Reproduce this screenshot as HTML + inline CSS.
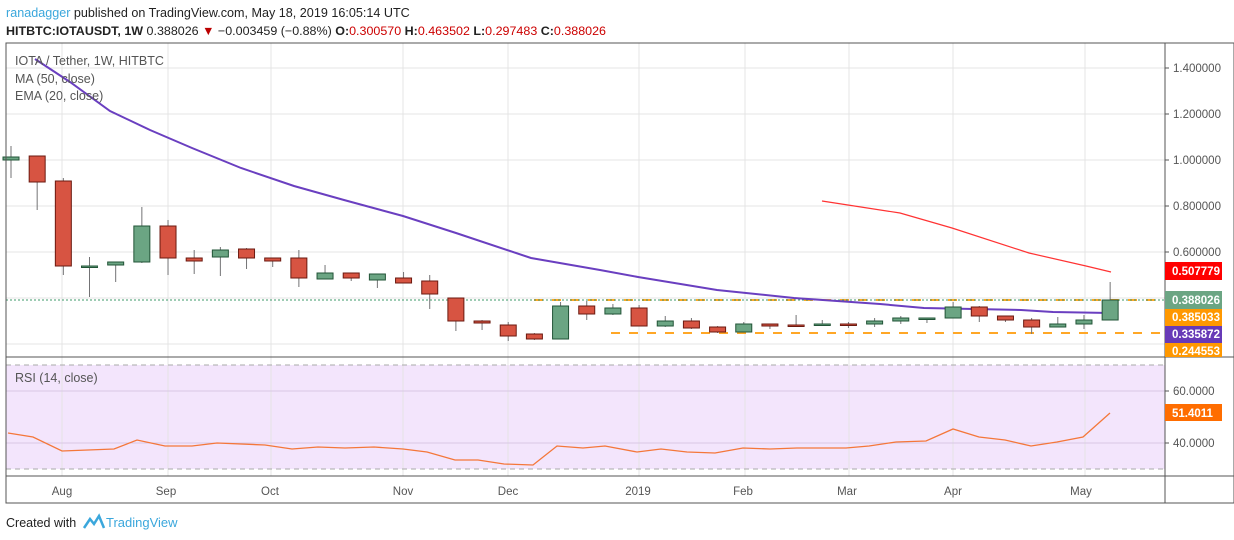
<!DOCTYPE html>
<html><head><meta charset="utf-8"><style>
body{margin:0;background:#fff;width:1234px;height:540px;overflow:hidden;font-family:"Liberation Sans",sans-serif}
svg{position:absolute;left:0;top:0}
</style></head><body>
<svg id="s" width="1234" height="540" xmlns="http://www.w3.org/2000/svg" font-family="Liberation Sans, sans-serif">
<text x="6" y="17" font-size="12.6"><tspan fill="#3ba7dc">ranadagger</tspan><tspan fill="#222"> published on TradingView.com, May 18, 2019 16:05:14 UTC</tspan></text>
<text x="6" y="35" font-size="12.4" fill="#222" textLength="600" lengthAdjust="spacingAndGlyphs"><tspan font-weight="bold">HITBTC:IOTAUSDT, 1W</tspan> 0.388026 <tspan fill="#b00">▼</tspan> −0.003459 (−0.88%) <tspan font-weight="bold">O:</tspan><tspan fill="#c00">0.300570</tspan> <tspan font-weight="bold">H:</tspan><tspan fill="#c00">0.463502</tspan> <tspan font-weight="bold">L:</tspan><tspan fill="#c00">0.297483</tspan> <tspan font-weight="bold">C:</tspan><tspan fill="#c00">0.388026</tspan></text>
<rect x="6" y="365" width="1159" height="104" fill="#f3e5fc"/>
<g id="grid" stroke="#e4e4e4" stroke-width="1"></g>
<line x1="6" y1="365" x2="1165" y2="365" stroke="#aaa" stroke-dasharray="5,4"/>
<line x1="6" y1="469" x2="1165" y2="469" stroke="#aaa" stroke-dasharray="5,4"/>
<line x1="6" y1="391" x2="1165" y2="391" stroke="#d8c8e4"/>
<line x1="6" y1="443" x2="1165" y2="443" stroke="#d8c8e4"/>
<line x1="534" y1="300" x2="1160" y2="300" stroke="#ffa726" stroke-width="2" stroke-dasharray="9,9"/>
<line x1="611" y1="333" x2="1160" y2="333" stroke="#ffa726" stroke-width="2" stroke-dasharray="9,9"/>
<line x1="6" y1="300" x2="1165" y2="300" stroke="#3c9a6a" stroke-dasharray="2,2"/>
<polyline fill="none" stroke="#6a3fc0" stroke-width="2" points="35,59 70,82 110,111 150,130 192,148 241,168 294,186 344,200 403,216 456,233 531,258 600,270 638,277 717,290 794,298 880,304 924,308 1021,310 1053,312 1110,313"/>
<polyline fill="none" stroke="#f33" stroke-width="1.2" points="822,201 900,213 952,228 1029,253 1086,266 1111,272"/>
<g id="c"></g>
<polyline fill="none" stroke="#f4773a" stroke-width="1.3" points="8,433 33,437 62,451 114,449 137,440 165,446 192,446 217,443 265,445 292,449 318,447 345,448 374,447 403,449 427,452 455,460 478,460 504,464 533,465 557,446 583,448 605,446 637,452 661,449 687,452 715,453 743,448 770,449 797,448 819,448 846,448 869,446 896,442 926,441 953,429 979,437 1005,440 1031,446 1057,442 1083,437 1110,413"/>
<rect x="6" y="43" width="1228" height="460" fill="none" stroke="#555"/>
<line x1="1165" y1="43" x2="1165" y2="503" stroke="#555"/>
<line x1="6" y1="357" x2="1234" y2="357" stroke="#555"/>
<line x1="6" y1="476" x2="1234" y2="476" stroke="#555"/>
<g font-size="12.5" fill="#555">
<text x="15" y="65">IOTA / Tether, 1W, HITBTC</text>
<text x="15" y="83">MA (50, close)</text>
<text x="15" y="100">EMA (20, close)</text>
<text x="15" y="382">RSI (14, close)</text>
</g>
<g font-size="11.5" fill="#555" id="ax"></g>
<g font-size="11.5" fill="#fff" font-weight="bold">
<rect x="1165" y="262" width="57" height="18" fill="#f00"/><text x="1172" y="275">0.507779</text>
<rect x="1165" y="291" width="57" height="18" fill="#6ba583"/><text x="1172" y="304">0.388026</text>
<rect x="1165" y="309" width="57" height="17" fill="#ff9800"/><text x="1172" y="321">0.385033</text>
<rect x="1165" y="326" width="57" height="17" fill="#673ab7"/><text x="1172" y="338">0.335872</text>
<rect x="1165" y="343" width="57" height="14" fill="#ff9800"/><text x="1172" y="355">0.244553</text>
<rect x="1165" y="404" width="57" height="17" fill="#ff6d00"/><text x="1172" y="417">51.4011</text>
</g>
<text x="6" y="527" font-size="12.5" fill="#222">Created with</text>
<path d="M84 528 L90 519 L94 524 L99 516 L104 528" fill="none" stroke="#3ba7dc" stroke-width="2.5"/>
<text x="106" y="527" font-size="13" fill="#3ba7dc">TradingView</text>
</svg>
<script>
var NS="http://www.w3.org/2000/svg",g=document.getElementById('grid'),c=document.getElementById('c'),ax=document.getElementById('ax');
function el(p,t,a,txt){var e=document.createElementNS(NS,t);for(var k in a)e.setAttribute(k,a[k]);if(txt)e.textContent=txt;p.appendChild(e);return e;}
[68,114,160,206,252,298,344].forEach(function(y){el(g,'line',{x1:6,y1:y,x2:1165,y2:y});});
[62,168,271,403,508,639,745,849,953,1085].forEach(function(x){el(g,'line',{x1:x,y1:43,x2:x,y2:476});});
var labs=[["1.400000",68],["1.200000",114],["1.000000",160],["0.800000",206],["0.600000",252],["60.0000",391],["40.0000",443]];
labs.forEach(function(l){el(ax,'line',{x1:1165,y1:l[1],x2:1169,y2:l[1],stroke:'#555'});el(ax,'text',{x:1173,y:l[1]+4},l[0]);});
[["Aug",62],["Sep",166],["Oct",270],["Nov",403],["Dec",508],["2019",638],["Feb",743],["Mar",847],["Apr",953],["May",1081]].forEach(function(l){el(ax,'text',{x:l[1],y:495,'text-anchor':'middle'},l[0]);});
var d=[[157,160,146,178,1],[156,182,156,210,0],[181,266,178,275,0],[266,266,257,297,1],[262,265,262,282,1],[226,262,207,263,1],[226,258,220,275,0],[258,261,250,274,0],[250,257,247,276,1],[249,258,248,269,0],[258,261,258,267,0],[258,278,250,287,0],[273,279,265,279,1],[273,278,273,281,0],[274,280,274,288,1],[278,283,272,283,0],[281,294,275,309,0],[298,321,298,331,0],[321,323,320,330,0],[325,336,322,341,0],[334,339,333,340,0],[306,339,302,339,1],[306,314,301,320,0],[308,314,304,315,1],[308,326,305,326,0],[321,326,316,327,1],[321,328,318,329,0],[327,332,326,333,0],[324,332,322,332,1],[324,326,324,329,0],[325,326,315,326,0],[324,325,320,325,1],[324,325,322,328,0],[321,324,318,327,1],[318,321,316,324,1],[318,319,318,323,1],[307,318,302,318,1],[307,316,306,322,0],[316,320,316,322,0],[320,327,318,334,0],[324,327,317,327,1],[320,324,315,329,1],[300,320,282,320,1]];
d.forEach(function(k,i){var x=11+26.17*i;el(c,'line',{x1:x,y1:k[2],x2:x,y2:k[3],stroke:'#737375'});
var h=Math.max(k[1]-k[0],1.5);el(c,'rect',{x:x-8,y:k[0],width:16,height:h,fill:k[4]?'#6ba583':'#d75442',stroke:k[4]?'#225437':'#6b1a10','stroke-width':1});});
</script>
</body></html>
